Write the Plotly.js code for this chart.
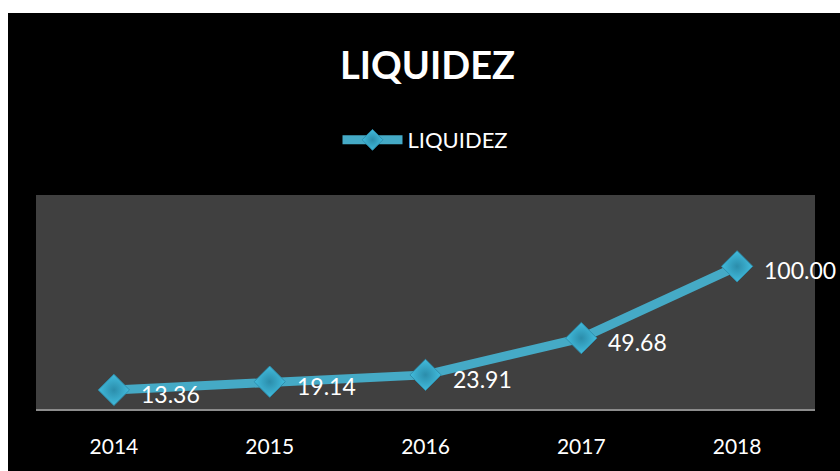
<!DOCTYPE html>
<html>
<head>
<meta charset="utf-8">
<script src="https://cdn.plot.ly/plotly-3.0.1.min.js"></script>
<style>html,body{margin:0;padding:0;background:#fff;}#chart{width:840px;height:471px;}</style>
</head>
<body>
<div id="chart"></div>
<script>
var years = ['2014', '2015', '2016', '2017', '2018'];
var liquidez = [13.36, 19.14, 23.91, 49.68, 100.00];
var seriesName = 'LIQUIDEZ';
var chartTitle = 'LIQUIDEZ';

var trace = {
  type: 'scatter',
  mode: 'lines+markers',
  name: seriesName,
  x: years,
  y: liquidez,
  line: {color: '#45AAC6', width: 9},
  marker: {symbol: 'diamond', size: 24, color: '#42BCDD',
           line: {color: '#2E8FAE', width: 1},
           gradient: {type: 'radial', color: '#2B8DAB'}},
  hoverinfo: 'skip'
};

var annotations = years.map(function (yr, i) {
  return {
    x: i, y: liquidez[i], xref: 'x', yref: 'y',
    text: liquidez[i].toFixed(2),
    showarrow: false, xanchor: 'left', yanchor: 'middle',
    xshift: 25, yshift: -4,
    font: {family: 'Lato, "Open Sans", sans-serif', size: 23, color: '#FFFFFF'}
  };
});

var layout = {
  width: 840, height: 471,
  margin: {l: 36, r: 25, t: 195, b: 62},
  paper_bgcolor: '#000000',
  plot_bgcolor: '#404040',
  font: {family: 'Lato, "Open Sans", sans-serif', color: '#FFFFFF'},
  title: {
    text: '<b>' + chartTitle + '</b>',
    font: {family: 'Lato, "Open Sans", sans-serif', size: 38, color: '#FFFFFF'},
    x: 0.509, xanchor: 'center', xref: 'container',
    y: 1 - 66 / 471, yanchor: 'middle', yref: 'container'
  },
  showlegend: true,
  legend: {
    orientation: 'h', x: 0.5, xanchor: 'center', y: 1.257, yanchor: 'middle',
    font: {family: 'Lato, "Open Sans", sans-serif', size: 22, color: '#FFFFFF'},
    bgcolor: 'rgba(0,0,0,0)', itemwidth: 60
  },
  xaxis: {
    type: 'category', range: [-0.5, 4.5],
    showgrid: false, zeroline: false,
    showline: true, linecolor: '#8C8C8C', linewidth: 2,
    ticks: '', ticklabelstandoff: 18,
    tickfont: {family: 'Lato, "Open Sans", sans-serif', size: 21, color: '#FFFFFF'},
    fixedrange: true
  },
  yaxis: {
    range: [0, 150], visible: false, showgrid: false, zeroline: false, fixedrange: true
  },
  shapes: [
    {type: 'rect', xref: 'paper', yref: 'paper', x0: -0.1, x1: 1.1,
     y0: (409 - 13) / 214, y1: 2.5, fillcolor: '#FFFFFF', line: {width: 0}, layer: 'above'},
    {type: 'rect', xref: 'paper', yref: 'paper', x0: -0.1, x1: (8 - 36) / 779,
     y0: -0.5, y1: 2.5, fillcolor: '#FFFFFF', line: {width: 0}, layer: 'above'}
  ],
  annotations: annotations
};

Plotly.newPlot('chart', [trace], layout, {displayModeBar: false, staticPlot: true});
</script>
</body>
</html>
